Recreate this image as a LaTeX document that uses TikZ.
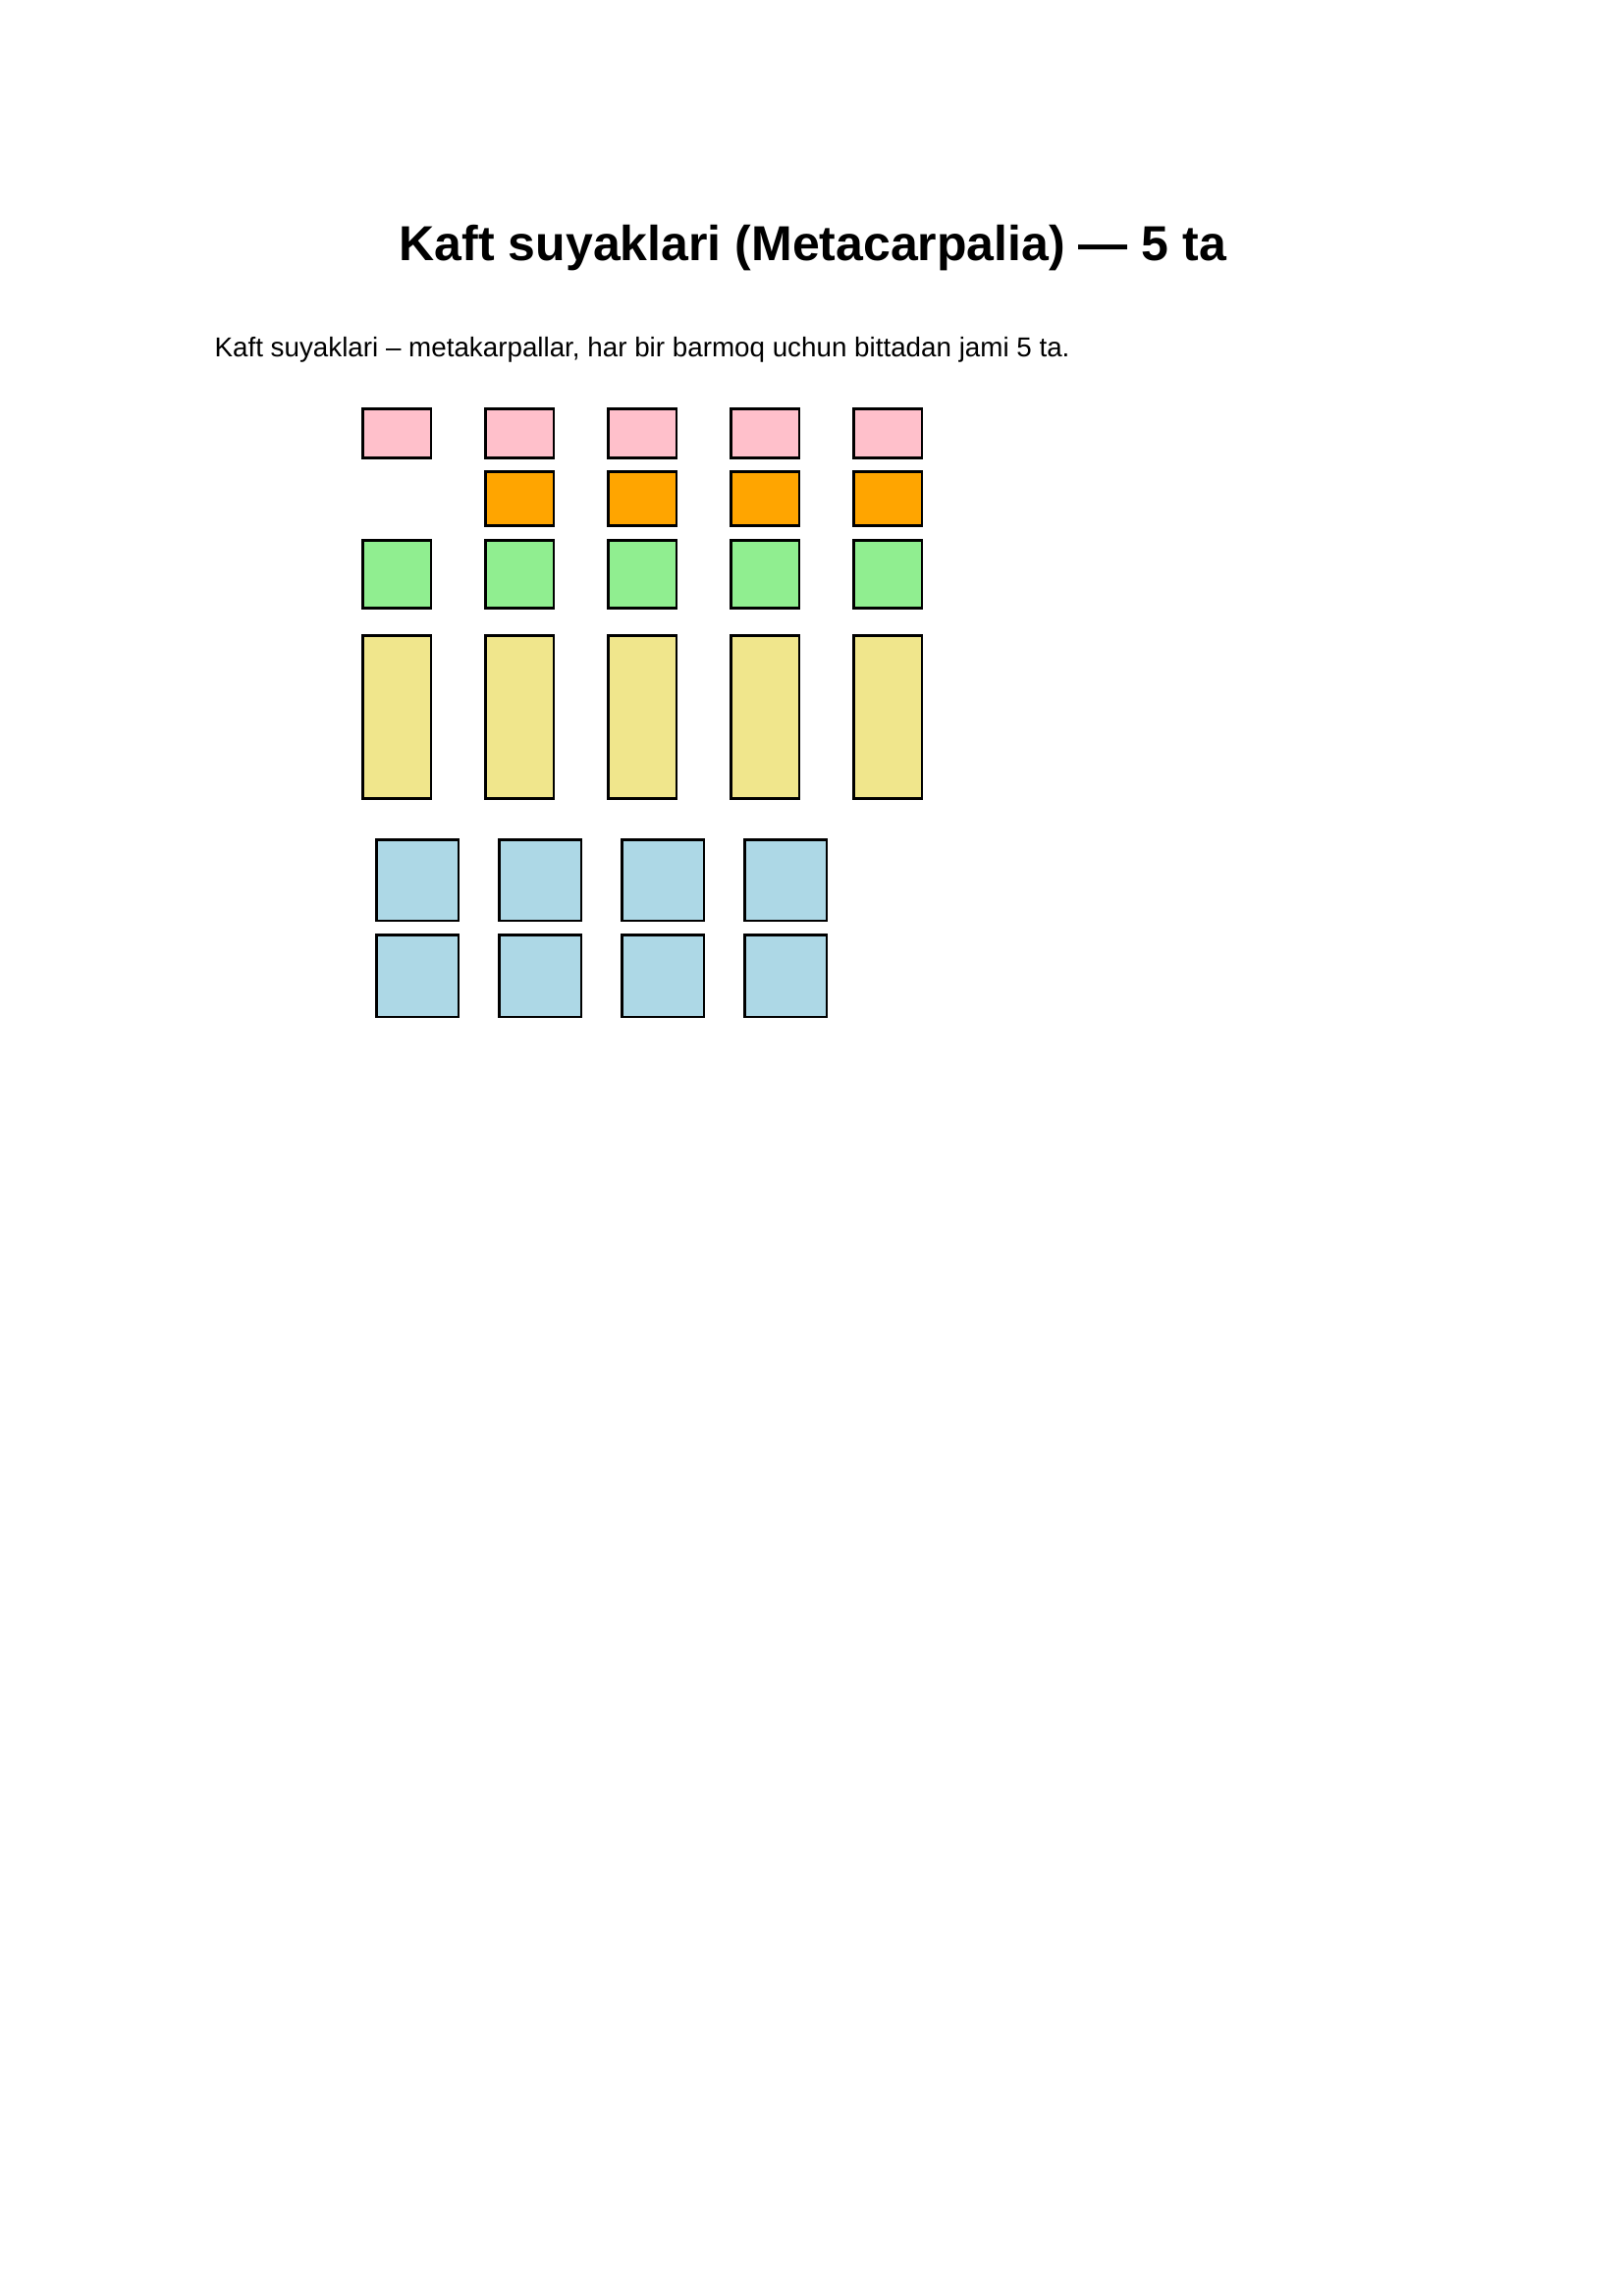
\documentclass[tikz,border=0pt]{standalone}
\usepackage{fontspec}
\setmainfont{Liberation Sans}
\definecolor{bpink}{RGB}{255,192,203}
\definecolor{borange}{RGB}{255,165,0}
\definecolor{bgreen}{RGB}{144,238,144}
\definecolor{bkhaki}{RGB}{240,230,140}
\definecolor{bblue}{RGB}{173,216,230}
\begin{document}
\begin{tikzpicture}[x=0.35990pt,y=-0.35990pt,
  bone/.style={draw=black,line width=0.95pt,inner sep=0pt},
  bw/.style={minimum width=#1*0.3599pt},
  bh/.style={minimum height=#1*0.3599pt}]
\useasboundingbox (0,0) rectangle (1654,2339);
\node[anchor=base,font=\bfseries\fontsize{18}{21}\selectfont] (title) at (828,265.7) {Kaft suyaklari (Metacarpalia) — 5 ta};
\node[anchor=base west,inner sep=0pt,font=\fontsize{10}{12}\selectfont] (desc) at (218,363.3) {Kaft suyaklari – metakarpallar, har bir barmoq uchun bittadan jami 5 ta.};
\foreach \i in {0,...,4}{
  \node[bone,fill=bpink,bw=69.3,bh=50.4] (p\i) at ({404.2+125*\i},441.4) {};
  \node[bone,fill=bgreen,bw=69.3,bh=69] (g\i) at ({404.2+125*\i},584.9) {};
  \node[bone,fill=bkhaki,bw=69.3,bh=166] (m\i) at ({404.2+125*\i},730.3) {};
}
\foreach \i in {1,...,4}{
  \node[bone,fill=borange,bw=69.3,bh=55] (o\i) at ({404.2+125*\i},507.9) {};
}
\foreach \i in {0,...,3}{
  \node[bone,fill=bblue,bw=83.3,bh=82.6] (c\i) at ({425.4+125*\i},896.7) {};
  \node[bone,fill=bblue,bw=83.3,bh=83.3] (d\i) at ({425.4+125*\i},994.3) {};
}
\end{tikzpicture}
\end{document}
